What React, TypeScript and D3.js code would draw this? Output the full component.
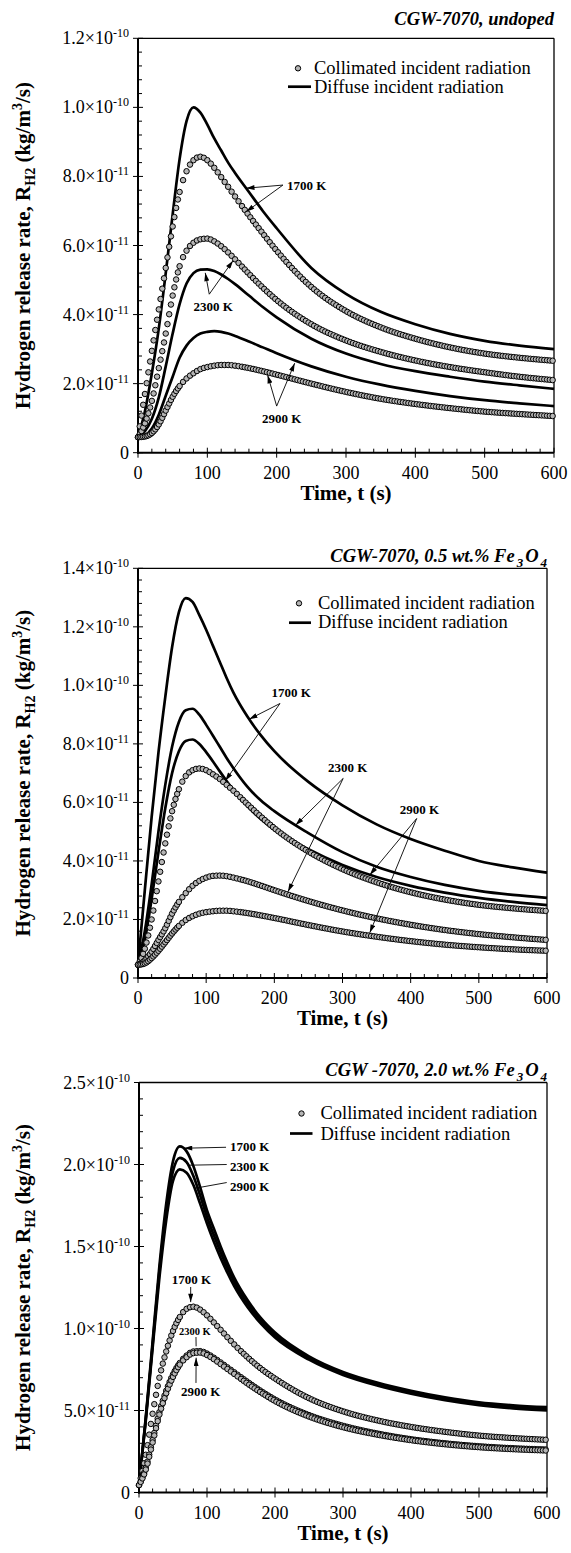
import React, { useEffect, useRef } from 'react';
import * as d3 from 'd3';

// ---------- DATA (values in units of 1e-11 kg/m^3/s) ----------
const TIMES = [0, 10, 20, 30, 40, 50, 60, 70, 80, 90, 100, 110, 120, 130, 140, 160, 180, 200, 250, 300, 350, 400, 450, 500, 550, 600];

// Panel 1: CGW-7070, undoped
const P1_D1700 = [0.45, 1.2, 2.3, 3.6, 5.2, 6.9, 8.5, 9.6, 10.0, 9.85, 9.5, 9.1, 8.75, 8.4, 8.1, 7.55, 7.0, 6.5, 5.35, 4.6, 4.08, 3.72, 3.44, 3.24, 3.1, 3.0];
const P1_C1700 = [0.45, 1.7, 2.95, 4.15, 5.35, 6.55, 7.55, 8.15, 8.47, 8.57, 8.47, 8.25, 7.98, 7.7, 7.42, 6.87, 6.35, 5.85, 4.8, 4.1, 3.63, 3.3, 3.05, 2.87, 2.75, 2.66];
const P1_C2300 = [0.45, 0.85, 1.5, 2.45, 3.45, 4.55, 5.4, 5.85, 6.08, 6.18, 6.2, 6.12, 5.98, 5.8, 5.6, 5.18, 4.78, 4.42, 3.72, 3.25, 2.92, 2.67, 2.48, 2.33, 2.2, 2.1];
const P1_D2300 = [0.45, 0.62, 0.98, 1.6, 2.5, 3.45, 4.3, 4.9, 5.2, 5.3, 5.31, 5.26, 5.16, 5.03, 4.88, 4.55, 4.22, 3.92, 3.3, 2.87, 2.57, 2.36, 2.2, 2.06, 1.95, 1.85];
const P1_D2900 = [0.45, 0.5, 0.7, 1.1, 1.65, 2.2, 2.75, 3.1, 3.32, 3.45, 3.5, 3.52, 3.5, 3.45, 3.38, 3.22, 3.05, 2.88, 2.5, 2.2, 1.97, 1.79, 1.64, 1.52, 1.43, 1.35];
const P1_C2900 = [0.45, 0.47, 0.57, 0.82, 1.22, 1.62, 1.93, 2.15, 2.3, 2.42, 2.48, 2.52, 2.54, 2.54, 2.52, 2.45, 2.36, 2.26, 2.0, 1.76, 1.56, 1.41, 1.29, 1.19, 1.12, 1.06];

// Panel 2: CGW-7070, 0.5 wt.% Fe3O4
const P2_D1700 = [0.45, 3.0, 5.5, 7.7, 9.6, 11.3, 12.5, 12.98, 12.85, 12.4, 11.9, 11.35, 10.8, 10.25, 9.75, 8.95, 8.3, 7.75, 6.7, 5.9, 5.25, 4.75, 4.35, 4.0, 3.78, 3.6];
const P2_D2300 = [0.45, 1.6, 3.2, 5.0, 6.6, 7.9, 8.75, 9.15, 9.2, 9.0, 8.65, 8.28, 7.9, 7.52, 7.17, 6.55, 6.07, 5.7, 4.95, 4.3, 3.8, 3.45, 3.18, 2.98, 2.84, 2.74];
const P2_D2900 = [0.45, 1.3, 2.7, 4.3, 5.8, 7.0, 7.75, 8.1, 8.15, 8.0, 7.72, 7.4, 7.06, 6.73, 6.42, 5.88, 5.43, 5.06, 4.4, 3.86, 3.45, 3.15, 2.92, 2.74, 2.6, 2.49];
const P2_C1700 = [0.45, 1.0, 2.0, 3.3, 4.6, 5.7, 6.45, 6.9, 7.1, 7.16, 7.1, 6.96, 6.8, 6.6, 6.4, 5.95, 5.52, 5.12, 4.32, 3.72, 3.27, 2.93, 2.68, 2.5, 2.38, 2.29];
const P2_C2300 = [0.45, 0.6, 0.9, 1.3, 1.7, 2.2, 2.6, 2.9, 3.15, 3.32, 3.43, 3.49, 3.5, 3.48, 3.43, 3.31, 3.16, 3.0, 2.63, 2.31, 2.04, 1.82, 1.64, 1.5, 1.39, 1.3];
const P2_C2900 = [0.45, 0.5, 0.68, 0.93, 1.22, 1.52, 1.78, 1.98, 2.11, 2.2, 2.25, 2.28, 2.3, 2.3, 2.28, 2.22, 2.14, 2.05, 1.81, 1.59, 1.41, 1.26, 1.14, 1.05, 0.98, 0.93];

// Panel 3: CGW-7070, 2.0 wt.% Fe3O4
const P3_D1700 = [0.45, 4.6, 9.2, 13.8, 17.6, 20.2, 21.1, 20.8, 19.9, 18.6, 17.2, 16.1, 15.0, 14.0, 13.1, 11.7, 10.6, 9.75, 8.3, 7.35, 6.7, 6.2, 5.8, 5.5, 5.32, 5.2];
const P3_D2300 = [0.45, 4.5, 9.0, 13.5, 17.1, 19.6, 20.4, 20.15, 19.3, 18.1, 16.8, 15.7, 14.65, 13.7, 12.85, 11.5, 10.45, 9.6, 8.2, 7.26, 6.62, 6.12, 5.72, 5.42, 5.22, 5.1];
const P3_D2900 = [0.45, 4.4, 8.8, 13.1, 16.6, 19.0, 19.7, 19.5, 18.75, 17.6, 16.4, 15.3, 14.3, 13.4, 12.58, 11.28, 10.27, 9.45, 8.1, 7.17, 6.53, 6.03, 5.63, 5.33, 5.13, 5.0];
const P3_C1700 = [0.45, 2.3, 4.8, 7.0, 8.6, 9.85, 10.7, 11.2, 11.33, 11.15, 10.8, 10.37, 9.92, 9.47, 9.03, 8.23, 7.53, 6.95, 5.75, 4.95, 4.4, 4.0, 3.7, 3.47, 3.32, 3.21];
const P3_C2300 = [0.45, 1.5, 3.2, 4.9, 6.2, 7.2, 7.9, 8.35, 8.6, 8.62, 8.47, 8.22, 7.93, 7.63, 7.33, 6.73, 6.17, 5.67, 4.72, 4.07, 3.6, 3.25, 3.0, 2.82, 2.7, 2.62];
const P3_C2900 = [0.45, 1.4, 3.05, 4.75, 6.05, 7.05, 7.8, 8.25, 8.5, 8.53, 8.38, 8.13, 7.83, 7.53, 7.23, 6.63, 6.08, 5.58, 4.63, 3.98, 3.53, 3.19, 2.94, 2.76, 2.64, 2.56];

// Ticks
const X_TICKS = [0, 100, 200, 300, 400, 500, 600];
const P1_Y_TICKS = [0, 2, 4, 6, 8, 10, 12];
const P1_Y_LABELS = ['0', '2.0×10^-11', '4.0×10^-11', '6.0×10^-11', '8.0×10^-11', '1.0×10^-10', '1.2×10^-10'];
const P2_Y_TICKS = [0, 2, 4, 6, 8, 10, 12, 14];
const P2_Y_LABELS = ['0', '2.0×10^-11', '4.0×10^-11', '6.0×10^-11', '8.0×10^-11', '1.0×10^-10', '1.2×10^-10', '1.4×10^-10'];
const P3_Y_TICKS = [0, 5, 10, 15, 20, 25];
const P3_Y_LABELS = ['0', '5.0×10^-11', '1.0×10^-10', '1.5×10^-10', '2.0×10^-10', '2.5×10^-10'];

const LEGEND_LABELS = ['Collimated incident radiation', 'Diffuse incident radiation'];
const Y_TITLE = ['Hydrogen release rate, R', 'H2', ' (kg/m', '3', '/s)'];
const X_TITLE = 'Time, t (s)';

// ---------- LAYOUT ----------
type Ann = { label: string; t: number; v: number; anchor: string; size: number; ot: number; ov: number; targets: { s: string; t: number; dv?: number }[]; head: boolean };

const PANELS = [
  {
    title: [{ t: 'CGW-7070, undoped' }], titleDy: -13,
    x0: 138, x1: 554, y0: 38.3, y1: 452.7, yMax: 12, yTicks: P1_Y_TICKS, yLabels: P1_Y_LABELS, yMinor: 0.4,
    legend: { cx: 298, cy: 30, tx: 314, ty: 36, lx0: 288, lx1: 311, ly: 48.4, t2y: 54.5 },
    diffuse: { D1700: P1_D1700, D2300: P1_D2300, D2900: P1_D2900 },
    collimated: { C1700: P1_C1700, C2300: P1_C2300, C2900: P1_C2900 },
    ann: [
      { label: '1700 K', t: 215, v: 7.62, anchor: 'start', size: 13, ot: 209, ov: 7.75, targets: [{ s: 'D1700', t: 156 }, { s: 'C1700', t: 156 }], head: true },
      { label: '2300 K', t: 108.6, v: 4.1, anchor: 'middle', size: 13, ot: 102.8, ov: 4.59, targets: [{ s: 'D2300', t: 97, dv: -0.1 }, { s: 'C2300', t: 137, dv: -0.1 }], head: true },
      { label: '2900 K', t: 207.3, v: 0.87, anchor: 'middle', size: 13, ot: 200, ov: 1.35, targets: [{ s: 'C2900', t: 187, dv: -0.08 }, { s: 'D2900', t: 226, dv: -0.08 }], head: true },
    ] as Ann[],
  },
  {
    title: [{ t: 'CGW-7070, 0.5 wt.% Fe' }, { t: '3', sub: true }, { t: 'O' }, { t: '4', sub: true }], titleDy: -6.6,
    x0: 138, x1: 547, y0: 568.3, y1: 978, yMax: 14, yTicks: P2_Y_TICKS, yLabels: P2_Y_LABELS, yMinor: 0.4,
    legend: { cx: 299, cy: 35, tx: 318, ty: 40.5, lx0: 289, lx1: 311, ly: 54.4, t2y: 60 },
    diffuse: { D1700: P2_D1700, D2300: P2_D2300, D2900: P2_D2900 },
    collimated: { C1700: P2_C1700, C2300: P2_C2300, C2900: P2_C2900 },
    ann: [
      { label: '1700 K', t: 196, v: 9.59, anchor: 'start', size: 13, ot: 208.3, ov: 9.38, targets: [{ s: 'D1700', t: 163 }, { s: 'C1700', t: 128, dv: 0.1 }], head: true },
      { label: '2300 K', t: 278.7, v: 7.03, anchor: 'start', size: 13, ot: 301, ov: 6.82, targets: [{ s: 'D2300', t: 231 }, { s: 'C2300', t: 220, dv: 0.1 }], head: true },
      { label: '2900 K', t: 384, v: 5.6, anchor: 'start', size: 13, ot: 408.8, ov: 5.45, targets: [{ s: 'D2900', t: 340 }, { s: 'C2900', t: 340, dv: 0.1 }], head: true },
    ] as Ann[],
  },
  {
    title: [{ t: 'CGW -7070, 2.0 wt.% Fe' }, { t: '3', sub: true }, { t: 'O' }, { t: '4', sub: true }], titleDy: -6.6,
    x0: 139, x1: 547, y0: 1082.5, y1: 1492.5, yMax: 25, yTicks: P3_Y_TICKS, yLabels: P3_Y_LABELS, yMinor: 1,
    legend: { cx: 301.5, cy: 31, tx: 320.5, ty: 36.5, lx0: 290, lx1: 312.5, ly: 51, t2y: 57 },
    diffuse: { D1700: P3_D1700, D2300: P3_D2300, D2900: P3_D2900 },
    collimated: { C1700: P3_C1700, C2300: P3_C2300, C2900: P3_C2900 },
    ann: [
      { label: '1700 K', t: 133.8, v: 20.8, anchor: 'start', size: 13, ot: 128, ov: 21.05, targets: [{ s: 'D1700', t: 66 }], head: true },
      { label: '2300 K', t: 133.8, v: 19.6, anchor: 'start', size: 13, ot: 129, ov: 20.0, targets: [{ s: 'D2300', t: 73 }], head: false },
      { label: '2900 K', t: 133.8, v: 18.4, anchor: 'start', size: 13, ot: 129, ov: 18.9, targets: [{ s: 'D2900', t: 82 }], head: false },
      { label: '1700 K', t: 48.1, v: 12.71, anchor: 'start', size: 13, ot: 76, ov: 12.53, targets: [{ s: 'C1700', t: 76, dv: 0.3 }], head: true },
      { label: '2300 K', t: 58.8, v: 9.6, anchor: 'start', size: 10.5, ot: 83.8, ov: 9.48, targets: [{ s: 'C2300', t: 84, dv: 0.3 }], head: false },
      { label: '2900 K', t: 61.8, v: 5.88, anchor: 'start', size: 13, ot: 83.8, ov: 6.68, targets: [{ s: 'C2900', t: 84, dv: -0.3 }], head: true },
    ] as Ann[],
  },
];

const MARKER_T = [...d3.range(0, 60, 2.5), ...d3.range(60, 150, 5), ...d3.range(150, 600.01, 4)];
const FONT = "'Liberation Serif', 'Times New Roman', serif";

function makeSampler(node: SVGPathElement) {
  const L = node.getTotalLength();
  const n = Math.max(2, Math.ceil(L / 0.4));
  const xs: number[] = [];
  const ys: number[] = [];
  for (let i = 0; i <= n; i++) {
    const p = node.getPointAtLength((L * i) / n);
    xs.push(p.x);
    ys.push(p.y);
  }
  return (px: number) => {
    const i = d3.bisectLeft(xs, px);
    if (i <= 0) return ys[0];
    if (i >= xs.length) return ys[ys.length - 1];
    const xa = xs[i - 1], xb = xs[i];
    const f = xb - xa === 0 ? 0 : (px - xa) / (xb - xa);
    return ys[i - 1] + f * (ys[i] - ys[i - 1]);
  };
}

function drawPanel(svg: d3.Selection<SVGSVGElement, unknown, null, undefined>, p: any) {
  const x = d3.scaleLinear().domain([0, 600]).range([p.x0, p.x1]);
  const y = d3.scaleLinear().domain([0, p.yMax]).range([p.y1, p.y0]);
  const g = svg.append('g');

  const line = d3.line<number>().x((_, i) => x(TIMES[i])).y((d) => y(d)).curve(d3.curveMonotoneX);
  const samplers: Record<string, (px: number) => number> = {};

  // ticks (minor + major)
  const xMinor = d3.range(0, 600.01, 20);
  xMinor.forEach((t) => {
    const major = t % 100 === 0;
    g.append('line').attr('x1', x(t)).attr('x2', x(t))
      .attr('y1', major ? p.y1 + 5 : p.y1).attr('y2', p.y1 - (major ? 5 : 4))
      .attr('stroke', '#000').attr('stroke-width', 1);
  });
  const yMinor = d3.range(0, p.yMax + 1e-6, p.yMinor);
  yMinor.forEach((v) => {
    const major = p.yTicks.some((tv: number) => Math.abs(tv - v) < 1e-6);
    g.append('line').attr('y1', y(v)).attr('y2', y(v))
      .attr('x1', major ? p.x0 - 5 : p.x0).attr('x2', p.x0 + (major ? 5 : 4))
      .attr('stroke', '#000').attr('stroke-width', 1);
  });

  // frame
  g.append('line').attr('x1', p.x0).attr('x2', p.x1).attr('y1', p.y0).attr('y2', p.y0).attr('stroke', '#000').attr('stroke-width', 1.3);
  g.append('line').attr('x1', p.x1).attr('x2', p.x1).attr('y1', p.y0).attr('y2', p.y1).attr('stroke', '#000').attr('stroke-width', 1.3);
  g.append('line').attr('x1', p.x0).attr('x2', p.x0).attr('y1', p.y0).attr('y2', p.y1 + 1).attr('stroke', '#000').attr('stroke-width', 2);
  g.append('line').attr('x1', p.x0 - 1).attr('x2', p.x1).attr('y1', p.y1).attr('y2', p.y1).attr('stroke', '#000').attr('stroke-width', 2);

  // tick labels
  X_TICKS.forEach((t) => {
    g.append('text').attr('x', x(t)).attr('y', p.y1 + 26).attr('text-anchor', 'middle')
      .attr('font-family', FONT).attr('font-size', 18).text(String(t));
  });
  p.yTicks.forEach((v: number, i: number) => {
    const lab: string = p.yLabels[i];
    const tx = g.append('text').attr('x', p.x0 - 9).attr('y', y(v) + 6).attr('text-anchor', 'end')
      .attr('font-family', FONT).attr('font-size', 18);
    if (lab.includes('^')) {
      const [base, exp] = lab.split('^');
      tx.append('tspan').text(base);
      tx.append('tspan').attr('font-size', 12).attr('dy', -7).text(exp);
    } else tx.text(lab);
  });

  // axis titles
  g.append('text').attr('x', (p.x0 + p.x1) / 2).attr('y', p.y1 + 47).attr('text-anchor', 'middle')
    .attr('font-family', FONT).attr('font-size', 21).attr('font-weight', 'bold').text(X_TITLE);
  const yt = g.append('text').attr('transform', `translate(30,${(p.y0 + p.y1) / 2}) rotate(-90)`)
    .attr('text-anchor', 'middle').attr('font-family', FONT).attr('font-size', 21).attr('font-weight', 'bold');
  yt.append('tspan').text(Y_TITLE[0]);
  yt.append('tspan').attr('font-size', 14).attr('dy', 5).text(Y_TITLE[1]);
  yt.append('tspan').attr('dy', -5).text(Y_TITLE[2]);
  yt.append('tspan').attr('font-size', 14).attr('dy', -8).text(Y_TITLE[3]);
  yt.append('tspan').attr('dy', 8).text(Y_TITLE[4]);

  // panel title
  const tt = g.append('text').attr('x', p.x1).attr('y', p.y0 + p.titleDy).attr('text-anchor', 'end')
    .attr('font-family', FONT).attr('font-size', 18.5).attr('font-weight', 'bold').attr('font-style', 'italic');
  let down = false;
  p.title.forEach((seg: any) => {
    const ts = tt.append('tspan').text(seg.t);
    if (seg.sub) { ts.attr('font-size', 13).attr('dy', 5).attr('dx', 2); down = true; }
    else if (down) { ts.attr('dy', -5).attr('dx', 2); down = false; }
  });

  // diffuse lines
  Object.entries(p.diffuse).forEach(([k, vals]: [string, any]) => {
    const path = g.append('path').attr('d', line(vals) as string).attr('fill', 'none')
      .attr('stroke', '#000').attr('stroke-width', 2.7);
    samplers[k] = makeSampler(path.node() as SVGPathElement);
  });

  // collimated (markers)
  Object.entries(p.collimated).forEach(([k, vals]: [string, any]) => {
    const path = g.append('path').attr('d', line(vals) as string).attr('fill', 'none').attr('stroke', 'none');
    const s = makeSampler(path.node() as SVGPathElement);
    samplers[k] = s;
    g.append('g').selectAll('circle').data(MARKER_T).join('circle')
      .attr('cx', (t) => x(t)).attr('cy', (t) => s(x(t))).attr('r', 2.75)
      .attr('fill', '#b5b5b5').attr('stroke', '#000').attr('stroke-width', 1);
  });

  // annotations
  p.ann.forEach((a: Ann) => {
    a.targets.forEach((tg) => {
      const px = x(tg.t);
      const py = samplers[tg.s](px) - (tg.dv ? y(0) - y(tg.dv) : 0);
      const ln = g.append('line').attr('x1', x(a.ot)).attr('y1', y(a.ov)).attr('x2', px).attr('y2', py)
        .attr('stroke', '#000').attr('stroke-width', 0.9);
      if (a.head) ln.attr('marker-end', 'url(#ah)');
    });
    g.append('text').attr('x', x(a.t)).attr('y', y(a.v)).attr('text-anchor', a.anchor)
      .attr('font-family', FONT).attr('font-size', a.size).attr('font-weight', 'bold').text(a.label);
  });

  // legend
  const L = p.legend;
  g.append('circle').attr('cx', L.cx).attr('cy', p.y0 + L.cy).attr('r', 2.7)
    .attr('fill', '#b5b5b5').attr('stroke', '#000').attr('stroke-width', 1);
  g.append('text').attr('x', L.tx).attr('y', p.y0 + L.ty).attr('font-family', FONT).attr('font-size', 18.5).text(LEGEND_LABELS[0]);
  g.append('line').attr('x1', L.lx0).attr('x2', L.lx1).attr('y1', p.y0 + L.ly).attr('y2', p.y0 + L.ly)
    .attr('stroke', '#000').attr('stroke-width', 2.7);
  g.append('text').attr('x', L.tx).attr('y', p.y0 + L.t2y).attr('font-family', FONT).attr('font-size', 18.5).text(LEGEND_LABELS[1]);
}

export default function App() {
  const ref = useRef<SVGSVGElement>(null);
  useEffect(() => {
    const svg = d3.select(ref.current as SVGSVGElement);
    svg.selectAll('*').remove();
    const defs = svg.append('defs');
    defs.append('marker').attr('id', 'ah').attr('viewBox', '0 0 10 6').attr('refX', 10).attr('refY', 3)
      .attr('markerWidth', 9).attr('markerHeight', 5).attr('markerUnits', 'userSpaceOnUse').attr('orient', 'auto')
      .append('path').attr('d', 'M0,0L10,3L0,6z').attr('fill', '#000');
    PANELS.forEach((p) => drawPanel(svg, p));
  }, []);
  return (
    <svg ref={ref} width={571} height={1553}
      style={{ position: 'absolute', left: 0, top: 0, background: '#fff' }} />
  );
}
